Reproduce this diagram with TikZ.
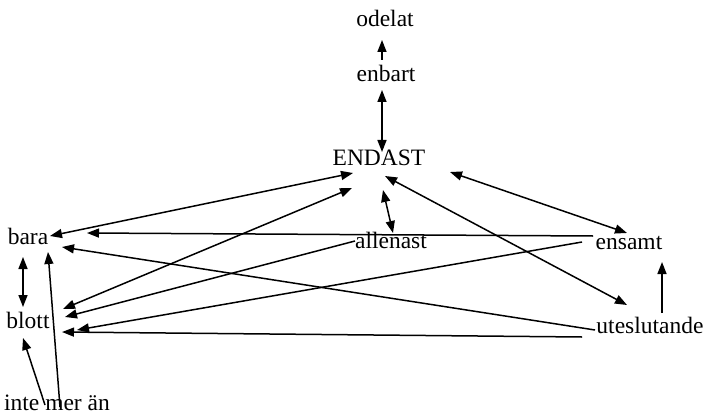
\documentclass[tikz,border=0pt]{standalone}
\usepackage{fontspec}
\setmainfont{Liberation Serif}
\usetikzlibrary{arrows.meta}
\begin{document}
\begin{tikzpicture}[x=1pt,y=-1pt,
  word/.style={inner sep=0pt,anchor=base,font=\fontsize{23.5}{28}\selectfont},
  tip/.tip={Triangle[length=12pt,width=9pt]},
  link/.style={line width=1.5pt,-tip},
  dlink/.style={line width=1.5pt,tip-tip}]
\useasboundingbox[fill=white] (0,0) rectangle (708,414);
\node[word] (odelat) at (385,27) {odelat};
\node[word] (enbart) at (386,82) {enbart};
\node[word] (endast) at (379,165) {ENDAST};
\node[word] (bara) at (28,244) {bara};
\node[word] (allenast) at (391,248) {allenast};
\node[word] (ensamt) at (629,249) {ensamt};
\node[word] (blott) at (28,328) {blott};
\node[word] (utesl) at (650,333) {uteslutande};
\node[word] (inte) at (57,410) {inte mer än};
% connectors
\draw[link] ([shift={(-4,-22)}]enbart.base) -- ([shift={(-3,13)}]odelat.base);
\draw[dlink] ([shift={(-4,8)}]enbart.base) -- ([shift={(3,-13)}]endast.base);
\draw[dlink] ([shift={(22,-8)}]bara.base) -- ([shift={(-26,8)}]endast.base);
\draw[dlink] ([shift={(35,-19)}]blott.base) -- ([shift={(-27,23)}]endast.base);
\draw[dlink] ([shift={(4,25)}]endast.base) -- ([shift={(2,-15)}]allenast.base);
\draw[dlink] ([shift={(6,11)}]endast.base) -- ([shift={(-23,-28)}]utesl.base);
\draw[dlink] ([shift={(71,7)}]endast.base) -- ([shift={(-2,-16)}]ensamt.base);
\draw[link] ([shift={(-36,-13)}]ensamt.base) -- ([shift={(59,-11)}]bara.base);
\draw[link] ([shift={(-55,-3)}]utesl.base) -- ([shift={(34,3)}]bara.base);
\draw[link] ([shift={(-36,-7)}]allenast.base) -- ([shift={(37,-11)}]blott.base);
\draw[link] ([shift={(-47,-7)}]ensamt.base) -- ([shift={(49,2)}]blott.base);
\draw[link] ([shift={(-68,4)}]utesl.base) -- ([shift={(34,4)}]blott.base);
\draw[link] ([shift={(12,-20)}]utesl.base) -- ([shift={(33,13)}]ensamt.base);
\draw[dlink] ([shift={(-5,13)}]bara.base) -- ([shift={(-5,-21)}]blott.base);
\draw[link] ([shift={(-12,-5)}]inte.base) -- ([shift={(-5,10)}]blott.base);
\draw[link] ([shift={(3,-3)}]inte.base) -- ([shift={(20,8)}]bara.base);
\end{tikzpicture}
\end{document}
